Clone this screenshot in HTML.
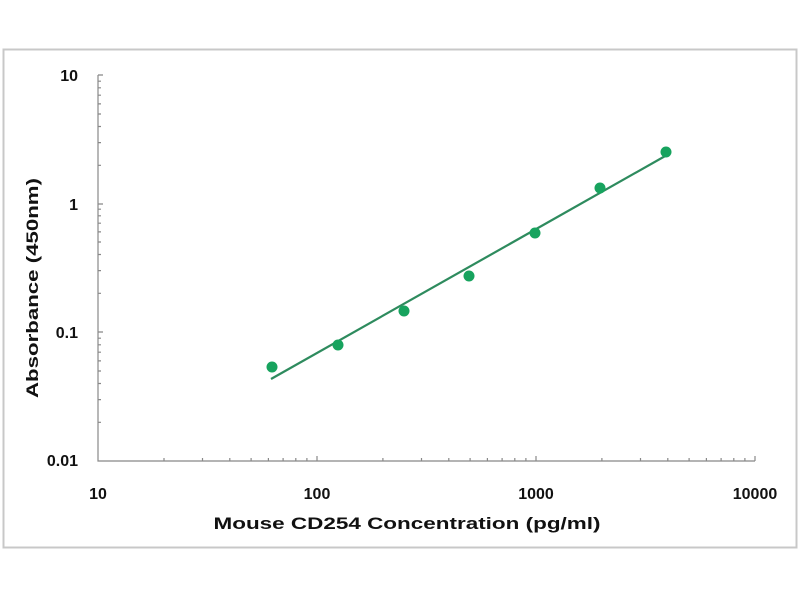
<!DOCTYPE html>
<html><head><meta charset="utf-8"><style>body{margin:0;background:#fff}svg{display:block}</style></head>
<body>
<svg width="800" height="600" viewBox="0 0 800 600" xmlns="http://www.w3.org/2000/svg" font-family="Liberation Sans, sans-serif" font-weight="bold">
<rect x="3.5" y="49.5" width="793" height="498" fill="#fff" stroke="#c8c8c8" stroke-width="2"/>
<g stroke="#888" stroke-width="1.2" fill="none">
<path d="M98 75V461H755"/>
<path d="M164 461v-3M202.5 461v-3M229.8 461v-3M251.1 461v-3M268.4 461v-3M283.1 461v-3M295.8 461v-3M306.9 461v-3M317 461v-5
M382.9 461v-3M421.5 461v-3M448.8 461v-3M470.1 461v-3M487.4 461v-3M502.1 461v-3M514.8 461v-3M525.9 461v-3M536 461v-5
M601.9 461v-3M640.5 461v-3M667.8 461v-3M689.1 461v-3M706.4 461v-3M721.1 461v-3M733.8 461v-3M744.9 461v-3M755 461v-5"/>
<path d="M98 422.3h3M98 399.6h3M98 383.5h3M98 371h3M98 360.9h3M98 352.2h3M98 344.8h3M98 338.2h3M98 332h5
M98 293.3h3M98 270.6h3M98 254.5h3M98 242h3M98 231.9h3M98 223.2h3M98 215.8h3M98 209.2h3M98 204h5
M98 165.3h3M98 142.6h3M98 126.5h3M98 114h3M98 103.9h3M98 95.2h3M98 87.8h3M98 81.2h3M98 75h5"/>
</g>
<g font-size="16" fill="#111" text-anchor="end">
<text x="78" y="81">10</text>
<text x="78" y="210">1</text>
<text x="78" y="338">0.1</text>
<text x="78" y="466">0.01</text>
</g>
<g font-size="16" fill="#111" text-anchor="middle">
<text x="98" y="499">10</text>
<text x="317" y="499">100</text>
<text x="536" y="499">1000</text>
<text x="755" y="499">10000</text>
</g>
<text x="407" y="529" font-size="17" text-anchor="middle" fill="#111" textLength="387" lengthAdjust="spacingAndGlyphs">Mouse CD254 Concentration (pg/ml)</text>
<text transform="translate(38,288) rotate(-90)" font-size="17" text-anchor="middle" fill="#111" textLength="220" lengthAdjust="spacingAndGlyphs">Absorbance (450nm)</text>
<line x1="271" y1="379" x2="667" y2="155" stroke="#2e8b5e" stroke-width="2.2"/>
<g fill="#17a35e">
<circle cx="272" cy="367" r="5.5"/>
<circle cx="338" cy="345" r="5.5"/>
<circle cx="404" cy="311" r="5.5"/>
<circle cx="469" cy="276" r="5.5"/>
<circle cx="535" cy="233" r="5.5"/>
<circle cx="600" cy="188" r="5.5"/>
<circle cx="666" cy="152" r="5.5"/>
</g>
</svg>
</body></html>
